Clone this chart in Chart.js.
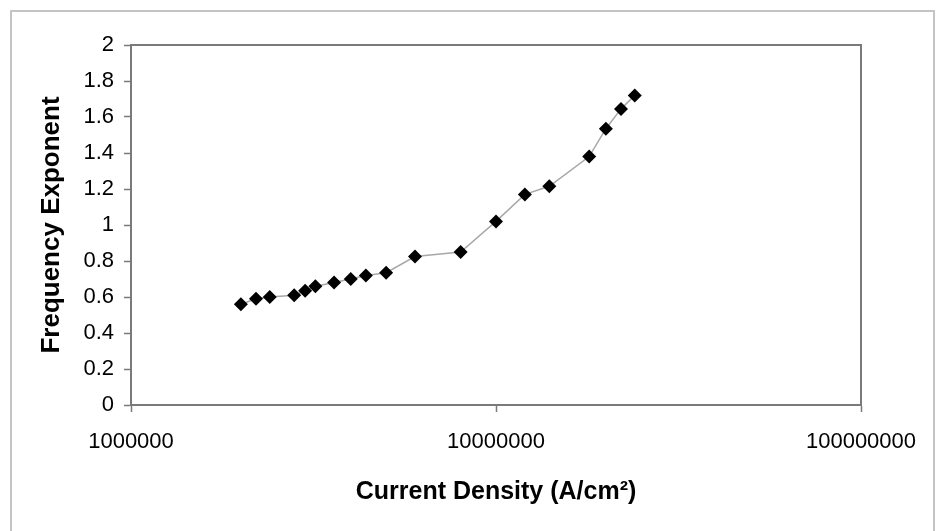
<!DOCTYPE html>
<html>
<head>
<meta charset="utf-8">
<script src="https://cdn.jsdelivr.net/npm/chart.js@4/dist/chart.umd.min.js"></script>
<style>
  html, body { margin: 0; padding: 0; background: #fff; }
  #wrap { position: relative; width: 938px; height: 531px; overflow: hidden; }
  #frame { position: absolute; left: 10px; top: 10px; width: 921px; height: 530px; border: 2px solid #c4c4c4; }
  canvas { position: absolute; left: 0; top: 0; }
</style>
</head>
<body>
<div id="wrap">
  <div id="frame"></div>
  <canvas id="chart" width="938" height="531"></canvas>
</div>
<script>
// Data
const currentDensity = [2.0e6, 2.2e6, 2.4e6, 2.8e6, 3.0e6, 3.2e6, 3.6e6, 4.0e6, 4.4e6, 5.0e6,
                        6.0e6, 8.0e6, 1.0e7, 1.2e7, 1.4e7, 1.8e7, 2.0e7, 2.2e7, 2.4e7];
const freqExponent = [0.56, 0.59, 0.60, 0.61, 0.635, 0.66, 0.68, 0.70, 0.72, 0.735,
                      0.825, 0.85, 1.02, 1.17, 1.215, 1.38, 1.535, 1.645, 1.72];
const xTicks = [1e6, 1e7, 1e8];
const yMin = 0, yMax = 2, yStep = 0.2;

const FONT = 'Liberation Sans, Arial, sans-serif';
const AXIS_GREY = '#7a7a7a';

// plot area frame (top/right sides, like an Excel plot area)
const frameBox = {
  id: 'frameBox',
  afterDraw(chart) {
    const { ctx, chartArea: a } = chart;
    ctx.save();
    ctx.strokeStyle = AXIS_GREY;
    ctx.lineWidth = 2;
    ctx.strokeRect(a.left, a.top, a.right - a.left, a.bottom - a.top);
    ctx.restore();
  }
};

new Chart(document.getElementById('chart'), {
  type: 'line',
  data: {
    datasets: [{
      data: currentDensity.map((x, i) => ({ x, y: freqExponent[i] })),
      borderColor: '#a8a8a8',
      borderWidth: 1.5,
      pointStyle: 'rectRot',
      pointRadius: 7,
      pointBackgroundColor: '#000',
      pointBorderColor: '#000',
      pointBorderWidth: 0,
      tension: 0,
      fill: false
    }]
  },
  options: {
    responsive: false,
    animation: false,
    layout: { padding: { left: 0, top: 45, right: 77, bottom: 0 } },
    plugins: { legend: { display: false }, tooltip: { enabled: false } },
    scales: {
      x: {
        type: 'logarithmic',
        min: xTicks[0], max: xTicks[xTicks.length - 1],
        afterBuildTicks: s => { s.ticks = xTicks.map(v => ({ value: v, major: true })); },
        afterFit: s => { s.height = 126; },
        border: { color: AXIS_GREY, width: 2 },
        grid: { drawOnChartArea: false, drawTicks: true, tickLength: 7, tickColor: AXIS_GREY, tickWidth: 1.5 },
        ticks: {
          color: '#000', font: { family: FONT, size: 22 }, padding: 17,
          maxRotation: 0, autoSkip: false,
          callback: v => String(v)
        },
        title: {
          display: true, text: 'Current Density (A/cm²)', color: '#000',
          font: { family: FONT, size: 25, weight: 'bold' }, padding: { bottom: 24 }
        }
      },
      y: {
        min: yMin, max: yMax,
        afterFit: s => { s.width = 131; },
        border: { color: AXIS_GREY, width: 2 },
        grid: { drawOnChartArea: false, drawTicks: true, tickLength: 7, tickColor: AXIS_GREY, tickWidth: 1.5 },
        ticks: {
          stepSize: yStep, color: '#000', font: { family: FONT, size: 22 }, padding: 10,
          callback: v => String(Number(v.toFixed(1)))
        },
        title: {
          display: true, text: 'Frequency Exponent', color: '#000',
          font: { family: FONT, size: 26, weight: 'bold' }, padding: { top: 36 }
        }
      }
    }
  },
  plugins: [frameBox]
});
</script>
</body>
</html>
